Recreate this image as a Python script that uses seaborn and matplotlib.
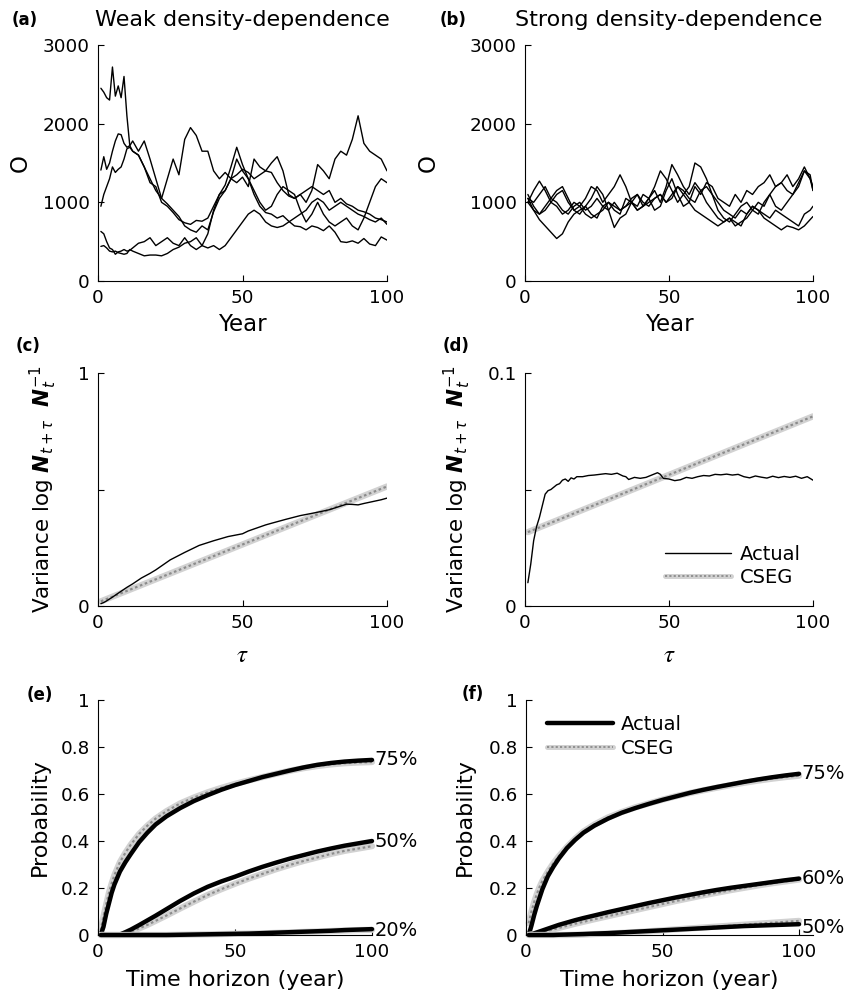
import numpy as np
import pandas as pd
import matplotlib
matplotlib.use("Agg")
import matplotlib.pyplot as plt
import seaborn as sns
from matplotlib.lines import Line2D

# ---------------- data ----------------
# (a) weak density dependence: five simulated trajectories
years_a = [1, 2, 3, 4, 5, 6, 7, 8, 9, 10, 11, 12] + list(range(14, 101, 2))
weak_1 = [2450, 2400, 2330, 2300, 2720, 2350, 2480, 2330, 2600, 2100, 1720, 1650,
          1600, 1450, 1250, 1200, 1000, 950, 870, 780, 740, 720,
          770, 760, 800, 950, 1100, 1220, 1450, 1700, 1480, 1300,
          1100, 950, 870, 850, 800, 830, 760, 700, 690, 650,
          700, 680, 640, 700, 620, 500, 490, 510, 480, 540,
          470, 450, 560, 520]
weak_2 = [1410, 1580, 1420, 1500, 1650, 1780, 1870, 1860, 1750, 1700, 1720, 1780,
          1650, 1780, 1550, 1300, 1050, 980, 900, 820, 700, 650,
          620, 700, 650, 880, 1050, 1150, 1300, 1350, 1420, 1380,
          1300, 1350, 1400, 1380, 1250, 1150, 1080, 1050, 1100, 1150,
          1200, 1150, 1100, 1150, 1000, 1050, 980, 950, 900, 880,
          850, 800, 780, 750]
weak_3 = [950, 1100, 1200, 1300, 1450, 1380, 1420, 1450, 1550, 1680, 1700, 1650,
          1600, 1450, 1300, 1150, 1050, 1300, 1550, 1350, 1800, 1950,
          1850, 1650, 1650, 1400, 1300, 1380, 1300, 1250, 1320, 1200,
          1550, 1450, 1400, 1500, 1580, 1400, 1100, 1050, 1100, 1000,
          1150, 1480, 1400, 1300, 1550, 1650, 1600, 1800, 2100, 1750,
          1650, 1600, 1550, 1400]
weak_4 = [630, 600, 500, 420, 400, 340, 370, 380, 400, 380, 390, 420,
          480, 500, 550, 450, 500, 550, 480, 450, 550, 450,
          400, 450, 600, 900, 1100, 1150, 1300, 1550, 1400, 1300,
          1150, 1000, 900, 950, 1100, 1200, 1150, 1100, 900, 750,
          850, 1000, 850, 750, 700, 750, 800, 700, 650, 800,
          1000, 1200, 1300, 1250]
weak_5 = [440, 450, 420, 380, 370, 380, 360, 350, 340, 350, 400, 380,
          350, 320, 330, 330, 320, 350, 400, 430, 480, 500,
          550, 450, 420, 450, 400, 450, 550, 650, 750, 850,
          900, 850, 750, 700, 680, 700, 750, 800, 850, 900,
          1000, 1050, 1000, 900, 950, 1000, 950, 900, 850, 820,
          780, 750, 800, 720]

# (b) strong density dependence: five simulated trajectories
years_b = list(range(1, 100, 2)) + [100]
strong_1 = [1050, 900, 780, 700, 620, 540, 600, 750, 850, 900,
            950, 1050, 1200, 1100, 900, 680, 800, 850, 1000, 950,
            1100, 1050, 1200, 1400, 1300, 1150, 1000, 1100, 1200, 1500,
            1450, 1300, 1100, 900, 800, 750, 850, 950, 1000, 900,
            850, 1000, 1100, 950, 900, 1000, 1100, 1200, 1400, 1350,
            1150]
strong_2 = [1000, 1150, 1270, 1150, 1000, 950, 850, 900, 1000, 950,
            1050, 1200, 1150, 1000, 1100, 1200, 1350, 1200, 1000, 900,
            950, 1050, 1150, 1000, 1200, 1480, 1350, 1200, 1100, 1250,
            1150, 1000, 900, 800, 750, 800, 700, 750, 800, 900,
            1000, 950, 1100, 1200, 1250, 1350, 1200, 1300, 1450, 1300,
            1200]
strong_3 = [1100, 950, 850, 900, 1000, 1100, 1150, 1000, 900, 950,
            850, 800, 850, 900, 1000, 950, 900, 950, 1000, 1100,
            1000, 950, 1050, 1100, 1000, 1100, 1200, 1150, 1050, 1000,
            1150, 1200, 1100, 1000, 900, 850, 800, 900, 850, 950,
            900, 850, 800, 900, 850, 800, 750, 700, 850, 900,
            950]
strong_4 = [1000, 900, 850, 950, 1050, 1000, 900, 850, 950, 1000,
            900, 950, 1050, 950, 900, 1000, 900, 950, 1050, 1100,
            950, 1000, 1050, 1100, 1000, 1050, 1200, 1100, 1000, 900,
            850, 800, 750, 700, 750, 800, 750, 700, 850, 950,
            900, 800, 750, 700, 650, 700, 680, 650, 700, 780,
            820]
strong_5 = [1050, 1000, 1100, 1200, 1050, 1150, 1200, 1050, 900, 850,
            950, 850, 800, 950, 1000, 900, 850, 1050, 1000, 900,
            950, 1050, 900, 950, 1150, 1300, 1100, 950, 1000, 1200,
            1100, 1250, 1200, 1050, 1000, 950, 1100, 1000, 1150, 1100,
            1200, 1250, 1350, 1200, 1250, 1150, 1100, 1250, 1400, 1300,
            1150]

# (c) variance of log ratio, weak DD
tau_c = [1, 2, 3, 5, 7, 10, 12, 15, 18, 20, 25, 30, 35, 40, 45, 50, 52, 55, 58, 60,
         65, 70, 75, 80, 83, 86, 88, 90, 92, 95, 98, 100]
var_c_actual = [0.01, 0.015, 0.022, 0.038, 0.055, 0.08, 0.095, 0.12, 0.14, 0.155,
                0.198, 0.23, 0.26, 0.28, 0.298, 0.31, 0.322, 0.335, 0.348, 0.355,
                0.372, 0.388, 0.40, 0.413, 0.425, 0.437, 0.436, 0.434, 0.44, 0.448,
                0.456, 0.463]
tau_c_cseg = [1, 100]
var_c_cseg = [0.02, 0.513]

# (d) variance of log ratio, strong DD
tau_d = [1, 2, 3, 4, 5, 6, 7, 8, 9, 10, 11, 12, 13, 14, 15, 16, 17, 18,
         20, 22, 24, 26, 28, 30, 32, 34, 35, 36, 38, 40, 42, 44, 46, 47, 48,
         50, 52, 54, 56, 58, 60, 62, 64, 66, 68, 70, 72, 74, 76, 78,
         80, 82, 84, 86, 88, 90, 92, 94, 96, 98, 100]
var_d_actual = [0.010, 0.018, 0.028, 0.034, 0.038, 0.043, 0.048, 0.0495, 0.050, 0.051,
                0.052, 0.0525, 0.054, 0.0545, 0.0535, 0.055, 0.0545, 0.0555,
                0.0555, 0.056, 0.0562, 0.0565, 0.0568, 0.0565, 0.057, 0.0558, 0.0555,
                0.0543, 0.0552, 0.0548, 0.0552, 0.0562, 0.0572, 0.0565, 0.0548,
                0.0545, 0.0538, 0.0542, 0.0552, 0.0548, 0.0555, 0.0560, 0.0558, 0.0565,
                0.0563, 0.0566, 0.0562, 0.0565, 0.0555, 0.0550,
                0.0558, 0.0553, 0.0549, 0.0557, 0.0551, 0.0556, 0.0552, 0.0557, 0.0548,
                0.0555, 0.0540]
tau_d_cseg = [1, 100]
var_d_cseg = [0.0317, 0.0814]

# (e), (f) probability of decline vs time horizon
horizon = [1, 2, 3, 4, 5, 6, 8, 10, 12, 15, 18, 21, 25, 30, 35, 40, 45, 50,
           55, 60, 65, 70, 75, 80, 85, 90, 95, 100]
e75_actual = [0, 0.035, 0.09, 0.135, 0.18, 0.215, 0.27, 0.31, 0.345, 0.395, 0.435, 0.47,
              0.505, 0.54, 0.57, 0.595, 0.618, 0.638, 0.655, 0.672, 0.686, 0.70, 0.713,
              0.724, 0.732, 0.738, 0.742, 0.745]
e75_cseg = [0.02, 0.08, 0.13, 0.18, 0.22, 0.255, 0.31, 0.35, 0.385, 0.43, 0.465, 0.495,
            0.527, 0.56, 0.585, 0.607, 0.626, 0.643, 0.658, 0.672, 0.686, 0.699, 0.71,
            0.719, 0.726, 0.731, 0.734, 0.736]
e50_actual = [0, 0, 0, 0, 0, 0, 0.002, 0.012, 0.023, 0.042, 0.062, 0.082, 0.11, 0.145,
              0.177, 0.205, 0.228, 0.248, 0.27, 0.29, 0.308, 0.325, 0.34, 0.355, 0.368,
              0.38, 0.39, 0.40]
e50_cseg = [0, 0, 0, 0, 0, 0, 0, 0.005, 0.014, 0.028, 0.043, 0.06, 0.083, 0.113, 0.142,
            0.17, 0.195, 0.218, 0.24, 0.26, 0.28, 0.298, 0.315, 0.33, 0.345, 0.358,
            0.368, 0.378]
e20_actual = [0, 0, 0, 0, 0, 0, 0, 0, 0, 0, 0, 0, 0, 0.001, 0.002, 0.003, 0.004, 0.005,
              0.006, 0.008, 0.010, 0.012, 0.014, 0.016, 0.018, 0.021, 0.023, 0.025]
e20_cseg = [0, 0, 0, 0, 0, 0, 0, 0, 0, 0, 0, 0, 0, 0.001, 0.002, 0.003, 0.004, 0.005,
            0.006, 0.007, 0.009, 0.011, 0.013, 0.015, 0.017, 0.019, 0.021, 0.022]
f75_actual = [0, 0.04, 0.085, 0.125, 0.16, 0.195, 0.25, 0.29, 0.325, 0.37, 0.405, 0.435,
              0.465, 0.495, 0.52, 0.54, 0.558, 0.575, 0.59, 0.605, 0.618, 0.63, 0.641,
              0.652, 0.662, 0.671, 0.679, 0.686]
f75_cseg = [0.05, 0.10, 0.14, 0.175, 0.205, 0.23, 0.27, 0.305, 0.335, 0.375, 0.41, 0.44,
            0.47, 0.50, 0.523, 0.543, 0.56, 0.576, 0.591, 0.604, 0.616, 0.627, 0.638,
            0.648, 0.657, 0.665, 0.672, 0.678]
f60_actual = [0, 0.003, 0.007, 0.011, 0.015, 0.019, 0.027, 0.035, 0.043, 0.053, 0.063,
              0.072, 0.083, 0.097, 0.11, 0.123, 0.136, 0.148, 0.16, 0.171, 0.182, 0.192,
              0.201, 0.209, 0.217, 0.225, 0.233, 0.24]
f60_cseg = [0, 0.002, 0.004, 0.006, 0.009, 0.012, 0.018, 0.024, 0.03, 0.039, 0.048, 0.056,
            0.067, 0.08, 0.093, 0.106, 0.119, 0.132, 0.145, 0.157, 0.169, 0.18, 0.191,
            0.201, 0.211, 0.22, 0.228, 0.236]
f50_actual = [0, 0, 0, 0, 0, 0, 0, 0, 0.001, 0.002, 0.003, 0.004, 0.006, 0.008, 0.011,
              0.014, 0.017, 0.02, 0.023, 0.026, 0.029, 0.032, 0.035, 0.038, 0.04, 0.042,
              0.044, 0.046]
f50_cseg = [0, 0, 0, 0, 0, 0, 0, 0, 0, 0, 0.001, 0.002, 0.004, 0.006, 0.009, 0.012, 0.016,
            0.02, 0.024, 0.028, 0.032, 0.036, 0.04, 0.044, 0.048, 0.052, 0.056, 0.06]

pct_labels_e = ["75%", "50%", "20%"]
pct_labels_f = ["75%", "60%", "50%"]

# ---------------- style ----------------
sns.set_style("ticks")
plt.rcParams["font.family"] = ["DejaVu Sans"]
plt.rcParams["text.color"] = "black"
plt.rcParams["axes.labelcolor"] = "black"
plt.rcParams["xtick.color"] = "black"
plt.rcParams["ytick.color"] = "black"
plt.rcParams["mathtext.fontset"] = "custom"
plt.rcParams["mathtext.rm"] = "DejaVu Sans"
plt.rcParams["mathtext.it"] = "DejaVu Sans:italic"
plt.rcParams["mathtext.bf"] = "DejaVu Sans:bold:italic"

W, H = 857, 997
fig = plt.figure(figsize=(W / 100, H / 100), dpi=100)


def add_ax(left, right, top, bottom):
    return fig.add_axes([left / W, 1 - bottom / H, (right - left) / W, (bottom - top) / H])


ax_a = add_ax(98, 387, 45, 281)
ax_b = add_ax(525, 813, 45, 281)
ax_c = add_ax(98, 387, 373, 606)
ax_d = add_ax(525, 813, 373, 606)
ax_e = add_ax(98, 372, 700, 935)
ax_f = add_ax(526, 813, 700, 935)

GRAY_BASE = "#d2d2d2"
GRAY_DASH = "#8c8c8c"


def hatched(ax, x, y, lw=4.5):
    sns.lineplot(x=x, y=y, color=GRAY_BASE, lw=lw, ax=ax, estimator=None)
    sns.lineplot(x=x, y=y, color=GRAY_DASH, lw=lw * 0.35, ax=ax, estimator=None,
                 linestyle=(0, (1.2, 1.2)))


def style(ax, xlim, ylim, yticks, yticklabels):
    sns.despine(ax=ax)
    ax.set_xlim(*xlim)
    ax.set_ylim(*ylim)
    ax.set_xticks([0, 50, 100])
    ax.set_xticklabels(["0", "50", "100"])
    ax.set_yticks(yticks)
    ax.set_yticklabels(yticklabels)
    ax.tick_params(direction="in", length=4, width=0.8, labelsize=13.2, pad=6,
                   colors="black")
    for s in ("left", "bottom"):
        ax.spines[s].set_linewidth(0.8)
        ax.spines[s].set_color("black")


# (a)
df_a = pd.DataFrame({
    "year": years_a * 5,
    "N": weak_1 + weak_2 + weak_3 + weak_4 + weak_5,
    "run": sum([[i] * len(years_a) for i in range(5)], []),
})
sns.lineplot(data=df_a, x="year", y="N", units="run", estimator=None, color="black",
             lw=1.0, ax=ax_a)
style(ax_a, (0, 100), (0, 3000), [0, 1000, 2000, 3000], ["0", "1000", "2000", "3000"])

# (b)
df_b = pd.DataFrame({
    "year": years_b * 5,
    "N": strong_1 + strong_2 + strong_3 + strong_4 + strong_5,
    "run": sum([[i] * len(years_b) for i in range(5)], []),
})
sns.lineplot(data=df_b, x="year", y="N", units="run", estimator=None, color="black",
             lw=1.0, ax=ax_b)
style(ax_b, (0, 100), (0, 3000), [0, 1000, 2000, 3000], ["0", "1000", "2000", "3000"])

for ax in (ax_a, ax_b):
    ax.set_xlabel("Year", fontsize=16.5)
    ax.set_ylabel("O", fontsize=16.5, rotation=90)
    ax.xaxis.set_label_coords(0.5, -0.186)
    ax.xaxis.label.set_verticalalignment("center")
    ax.yaxis.label.set_verticalalignment("center")
ax_a.yaxis.set_label_coords((20 - 98) / 289, 0.5)
ax_b.yaxis.set_label_coords((428 - 525) / 288, 0.5)

# (c)
hatched(ax_c, tau_c_cseg, var_c_cseg, lw=4.5)
sns.lineplot(x=tau_c, y=var_c_actual, color="black", lw=1.0, ax=ax_c, estimator=None)
style(ax_c, (0, 100), (0, 1), [0, 0.5, 1], ["0", "", "1"])

# (d)
hatched(ax_d, tau_d_cseg, var_d_cseg, lw=4.5)
sns.lineplot(x=tau_d, y=var_d_actual, color="black", lw=1.0, ax=ax_d, estimator=None)
style(ax_d, (0, 100), (0, 0.1), [0, 0.05, 0.1], ["0", "", "0.1"])

ylab_cd = r"Variance log $\mathbf{N}_{t+\tau}$  $\mathbf{N}_t^{-1}$"
for ax, xc in ((ax_c, (43 - 98) / 289), (ax_d, (457 - 525) / 288)):
    ax.set_ylabel(ylab_cd, fontsize=15.5)
    ax.yaxis.set_label_coords(xc, 0.5)
    ax.yaxis.label.set_verticalalignment("center")
    ax.set_xlabel(r"$\tau$", fontsize=18, math_fontfamily="stix")
    ax.xaxis.set_label_coords(0.5, -0.21)
    ax.xaxis.label.set_verticalalignment("center")

h_actual_thin = Line2D([], [], color="black", lw=1.0)
h_cseg = (Line2D([], [], color=GRAY_BASE, lw=3.6),
          Line2D([], [], color=GRAY_DASH, lw=1.3, linestyle=(0, (1.2, 1.2))))
ax_d.legend([h_actual_thin, h_cseg], ["Actual", "CSEG"], loc="upper left",
            bbox_to_anchor=(0.486, 0.262), frameon=False, fontsize=14,
            handlelength=3.4, handletextpad=0.45, labelspacing=0.22,
            borderpad=0, borderaxespad=0)

# (e)
for cs, ac in ((e75_cseg, e75_actual), (e50_cseg, e50_actual), (e20_cseg, e20_actual)):
    hatched(ax_e, horizon, cs, lw=4.5)
    sns.lineplot(x=horizon, y=ac, color="black", lw=3.2, ax=ax_e, estimator=None)
style(ax_e, (0, 100), (0, 1), [0, 0.2, 0.4, 0.6, 0.8, 1],
      ["0", "0.2", "0.4", "0.6", "0.8", "1"])
for lab, yv in zip(pct_labels_e, [e75_actual[-1], e50_actual[-1], 0.018]):
    ax_e.text(101, yv, lab, fontsize=14, va="center", ha="left", clip_on=False)

# (f)
for cs, ac in ((f75_cseg, f75_actual), (f60_cseg, f60_actual), (f50_cseg, f50_actual)):
    hatched(ax_f, horizon, cs, lw=4.5)
    sns.lineplot(x=horizon, y=ac, color="black", lw=3.2, ax=ax_f, estimator=None)
style(ax_f, (0, 105.1), (0, 1), [0, 0.2, 0.4, 0.6, 0.8, 1],
      ["0", "0.2", "0.4", "0.6", "0.8", "1"])
for lab, yv in zip(pct_labels_f, [f75_actual[-1], f60_actual[-1], 0.034]):
    ax_f.text(101, yv, lab, fontsize=14, va="center", ha="left", clip_on=False)

for ax in (ax_e, ax_f):
    for ln in ax.get_lines():
        ln.set_clip_on(False)
    ax.set_xlabel("Time horizon (year)", fontsize=16)
    ax.xaxis.set_label_coords(0.5, -0.19)
    ax.xaxis.label.set_verticalalignment("center")
    ax.set_ylabel("Probability", fontsize=16)
    ax.yaxis.label.set_verticalalignment("center")
ax_e.yaxis.set_label_coords((40 - 98) / 274, 0.5)
ax_f.yaxis.set_label_coords((465 - 526) / 287, 0.5)

h_actual_thick = Line2D([], [], color="black", lw=3.2)
ax_f.legend([h_actual_thick, h_cseg], ["Actual", "CSEG"], loc="upper left",
            bbox_to_anchor=(0.073, 0.936), frameon=False, fontsize=14,
            handlelength=3.4, handletextpad=0.4, labelspacing=0.25,
            borderpad=0, borderaxespad=0)

# titles and panel letters
fig.text(242 / W, 1 - 20 / H, "Weak density-dependence", fontsize=16, ha="center", va="center")
fig.text(669 / W, 1 - 20 / H, "Strong density-dependence", fontsize=16, ha="center", va="center")
for lab, x, y in (("(a)", 12, 20), ("(b)", 440, 20), ("(c)", 16, 346),
                  ("(d)", 443, 346), ("(e)", 27, 695), ("(f)", 462, 694)):
    fig.text(x / W, 1 - y / H, lab, fontsize=12, fontweight="bold", ha="left", va="center")

fig.savefig("out.png", dpi=100)
